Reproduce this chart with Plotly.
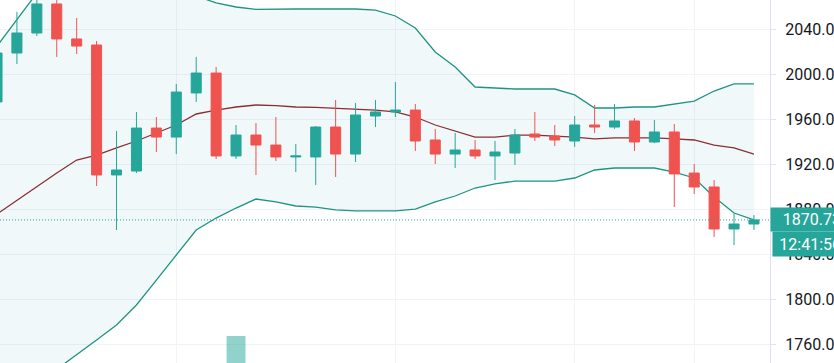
import plotly.graph_objects as go

# ---- data ----
opens = [1975.6, 2019.1, 2036.9, 2062.7, 2031.6, 2026.2, 1910.7, 1914.2, 1952.4, 1944.4,
         1983.6, 2001.3, 1927.6, 1946.2, 1937.3, 1926.7, 1926.7, 1953.3, 1929.3, 1963.1,
         1966.7, 1968.4, 1941.8, 1929.3, 1932.9, 1927.6, 1930.2, 1947.1, 1945.3, 1940.9,
         1955.1, 1953.3, 1958.7, 1940.0, 1948.9, 1912.4, 1900.0, 1862.7, 1867.1]
highs = [2024.0, 2055.6, 2067.0, 2067.0, 2050.2, 2029.8, 1949.8, 1966.7, 1962.2, 1991.6,
         2015.6, 2006.7, 1955.1, 1956.9, 1962.2, 1938.2, 1954.2, 1977.3, 1974.7, 1977.3,
         1993.3, 1973.8, 1951.6, 1948.0, 1941.8, 1940.9, 1951.6, 1966.7, 1955.1, 1963.1,
         1972.9, 1973.8, 1961.3, 1959.6, 1956.0, 1920.4, 1906.2, 1876.9, 1875.1]
lows = [1970.0, 2009.3, 2034.2, 2015.6, 2018.2, 1900.9, 1861.8, 1912.4, 1931.1, 1929.3,
        1975.6, 1924.9, 1924.9, 1910.7, 1923.1, 1913.3, 1901.8, 1908.9, 1922.2, 1953.3,
        1962.2, 1932.0, 1920.4, 1916.9, 1924.9, 1906.2, 1919.6, 1940.9, 1936.4, 1935.6,
        1948.0, 1951.6, 1932.0, 1939.0, 1882.2, 1893.8, 1855.6, 1848.4, 1861.8]
closes = [2019.1, 2036.9, 2062.7, 2031.6, 2025.3, 1910.7, 1915.1, 1952.4, 1944.4, 1984.4,
          2001.3, 1927.6, 1946.2, 1937.3, 1926.7, 1927.6, 1953.3, 1929.3, 1964.0, 1966.7,
          1968.4, 1940.9, 1929.3, 1932.9, 1927.6, 1931.1, 1946.2, 1944.4, 1941.8, 1955.1,
          1953.3, 1958.7, 1940.0, 1948.9, 1911.6, 1900.0, 1862.7, 1867.1, 1870.73]
volumes = [62000, 70000, 78000, 74000, 60000, 118000, 110000, 96000, 72000, 88000,
           80000, 112000, 152000, 76000, 64000, 52000, 84000, 90000, 86000, 58000,
           66000, 92000, 70000, 54000, 50000, 62000, 68000, 48000, 46000, 60000,
           52000, 50000, 74000, 58000, 104000, 82000, 108000, 86000, 30000]

bb_upper = [2025.3, 2048.4, 2072.4, 2088.4, 2097.3, 2101.8, 2101.8, 2097.3, 2088.4, 2078.7,
            2069.8, 2063.6, 2060.0, 2057.8, 2058.2, 2058.2, 2058.2, 2058.2, 2058.2, 2057.3,
            2052.0, 2041.3, 2020.0, 2006.7, 1988.9, 1988.0, 1987.1, 1987.1, 1987.1, 1981.8,
            1970.2, 1970.2, 1971.1, 1971.1, 1973.8, 1976.4, 1985.3, 1991.6, 1991.6]
bb_basis = [1876.0, 1888.4, 1900.0, 1912.4, 1924.0, 1928.4, 1934.7, 1940.9, 1948.0, 1955.1,
            1964.9, 1968.4, 1971.1, 1972.9, 1972.4, 1971.1, 1970.7, 1969.8, 1969.3, 1968.4,
            1966.7, 1962.2, 1955.1, 1949.8, 1944.4, 1944.4, 1946.2, 1946.2, 1945.3, 1944.4,
            1942.7, 1943.6, 1943.6, 1943.6, 1942.7, 1941.8, 1937.3, 1934.7, 1929.3]
bb_lower = [1720.0, 1725.0, 1730.0, 1738.0, 1750.7, 1764.0, 1777.3, 1795.1, 1817.3, 1839.6,
            1861.8, 1872.4, 1881.3, 1889.3, 1886.7, 1883.1, 1882.2, 1879.6, 1878.7, 1878.7,
            1878.7, 1880.4, 1886.7, 1892.0, 1899.1, 1902.7, 1905.3, 1905.3, 1905.3, 1908.0,
            1915.1, 1916.9, 1916.9, 1916.9, 1913.3, 1908.0, 1891.1, 1876.9, 1870.7]

price_ticks = [1760, 1800, 1840, 1880, 1920, 1960, 2000, 2040]
time_grid = [9, 20, 29, 35]
last_price_label = "1870.73"
countdown_label = "12:41:56"

# ---- styling ----
UP = "#26a69a"
DOWN = "#ef5350"
BAND = "#1e9484"
BASIS = "#8a2f35"
GRID = "#f0f3fa"
FONT = "Roboto"

idx = list(range(len(closes)))
vol_colors = ["rgba(38,166,154,0.5)" if c >= o else "rgba(239,83,80,0.5)"
              for o, c in zip(opens, closes)]

fig = go.Figure()

# Bollinger bands (base subplot -> drawn beneath)
fig.add_trace(go.Scatter(x=idx, y=bb_upper, mode="lines",
                         line=dict(color=BAND, width=1.3), hoverinfo="skip",
                         showlegend=False, yaxis="y"))
fig.add_trace(go.Scatter(x=idx, y=bb_lower, mode="lines", fill="tonexty",
                         fillcolor="rgba(38,150,160,0.065)",
                         line=dict(color=BAND, width=1.3), hoverinfo="skip",
                         showlegend=False, yaxis="y"))
fig.add_trace(go.Scatter(x=idx, y=bb_basis, mode="lines",
                         line=dict(color=BASIS, width=1.3), hoverinfo="skip",
                         showlegend=False, yaxis="y"))

# Volume (overlay)
fig.add_trace(go.Bar(x=idx, y=volumes, marker=dict(color=vol_colors, line=dict(width=0)),
                     width=0.95, showlegend=False, yaxis="y2", hoverinfo="skip"))

# Candles (top overlay)
fig.add_trace(go.Candlestick(
    x=idx, open=opens, high=highs, low=lows, close=closes,
    increasing=dict(line=dict(color=UP, width=1), fillcolor=UP),
    decreasing=dict(line=dict(color=DOWN, width=1), fillcolor=DOWN),
    whiskerwidth=0, showlegend=False, yaxis="y3"))

px_per_bar = 19.92
x0 = 3 / px_per_bar
x1 = x0 + 770 / px_per_bar
prange = [1743.56, 2066.22]

fig.update_layout(
    width=834, height=363,
    margin=dict(l=0, r=64, t=0, b=0, autoexpand=False),
    paper_bgcolor="white", plot_bgcolor="white",
    boxgap=0.28,
    font=dict(family=FONT, size=16, color="#131722"),
    xaxis=dict(range=[x0, x1], rangeslider=dict(visible=False), automargin=False,
               tickvals=time_grid, showticklabels=False, ticks="",
               showgrid=True, gridcolor=GRID, gridwidth=1, zeroline=False,
               showline=False, fixedrange=True),
    yaxis=dict(range=prange, side="right", tickvals=price_ticks, automargin=False,
               tickformat=".2f", showgrid=True, gridcolor=GRID, gridwidth=1,
               zeroline=False, showline=True, linecolor="#e0e3eb", linewidth=1,
               ticks="outside", ticklen=5, tickcolor="#e0e3eb",
               ticklabelstandoff=6,
               tickfont=dict(family=FONT, size=16, color="#131722")),
    yaxis2=dict(range=[125000, 488000], overlaying="y", visible=False,
                automargin=False, showgrid=False, zeroline=False),
    yaxis3=dict(range=prange, overlaying="y", visible=False,
                automargin=False, showgrid=False, zeroline=False),
    showlegend=False,
)

# last price dotted line
fig.add_shape(type="line", xref="paper", x0=0, x1=1, yref="y",
              y0=closes[-1], y1=closes[-1],
              line=dict(color=UP, width=1, dash="1px,2px"))

# price / countdown labels on the axis
fig.add_annotation(xref="paper", x=1, yref="y", y=closes[-1], xanchor="left",
                   yanchor="middle", text=last_price_label, showarrow=False,
                   bgcolor=UP, font=dict(color="white", size=16, family=FONT),
                   width=68, height=19, borderpad=2, align="right")
fig.add_annotation(xref="paper", x=1, yref="y", y=closes[-1], xanchor="left",
                   yanchor="middle", yshift=-24.5, xshift=2, text=countdown_label,
                   showarrow=False, bgcolor=UP,
                   font=dict(color="white", size=16, family=FONT),
                   width=66, height=20, borderpad=2, align="right")

fig.write_html("out.html")
